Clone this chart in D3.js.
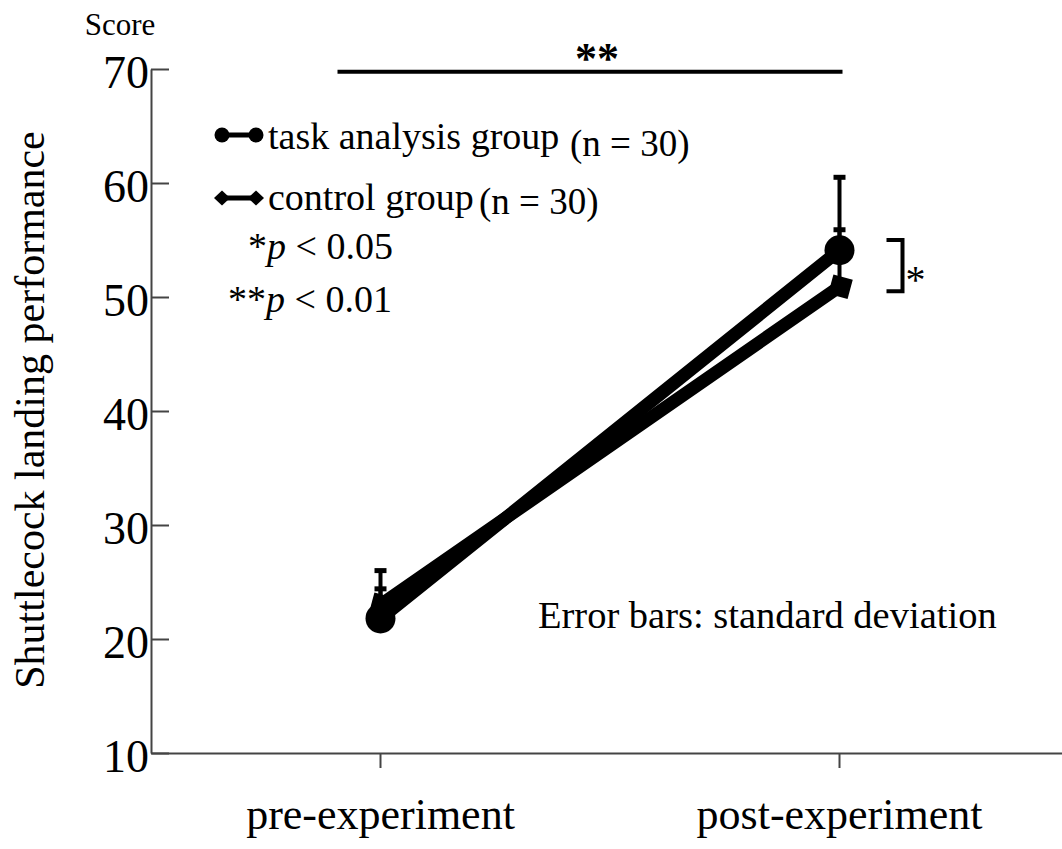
<!DOCTYPE html>
<html>
<head>
<meta charset="utf-8">
<script src="https://cdn.jsdelivr.net/npm/d3@7"></script>
<style>
  html, body { margin: 0; padding: 0; background: #fff; }
  svg { display: block; }
  text { font-family: "Liberation Serif", "Times New Roman", serif; fill: #000; }
</style>
</head>
<body>
<svg id="chart" width="1062" height="849"></svg>
<script>
// Measurement phases on the x axis
const categories = ["pre-experiment", "post-experiment"];

// Group means and standard deviations
const taskMean = [21.8, 54.1];
const taskSD = [2.6, 6.4];
const controlMean = [23.0, 50.9];
const controlSD = [3.0, 5.0];

// Y axis ticks
const yTicks = [10, 20, 30, 40, 50, 60, 70];

// Legend entries
const legendLabels = ["task analysis group", "control group"];
const legendN = ["(n = 30)", "(n = 30)"];

const svg = d3.select("#chart");

const x = d3.scaleBand().domain(categories).range([151, 1069]).padding(0);
const y = d3.scaleLinear().domain([10, 70]).range([753, 69]);
const cx = c => x(c) + x.bandwidth() / 2;

// Y axis: ticks point inward, labels on the left
const yAxis = svg.append("g")
  .attr("transform", "translate(151,0)")
  .call(d3.axisLeft(y).tickValues(yTicks).tickSizeInner(-18).tickSizeOuter(0).tickPadding(2));
yAxis.attr("font-family", null);
yAxis.selectAll("path, line").attr("stroke", "#444").attr("stroke-width", 2);
yAxis.selectAll("text")
  .attr("dy", "0.41em")
  .style("font-family", "'Liberation Serif', serif")
  .style("font-size", "46px")
  .attr("fill", "#000");

// X axis
const xAxis = svg.append("g")
  .attr("transform", "translate(0,753)")
  .call(d3.axisBottom(x).tickSizeInner(15).tickSizeOuter(0));
xAxis.attr("font-family", null);
xAxis.selectAll("path, line").attr("stroke", "#444").attr("stroke-width", 2);
xAxis.selectAll("text")
  .attr("y", 76)
  .attr("dy", 0)
  .style("font-family", "'Liberation Serif', serif")
  .style("font-size", "44px")
  .attr("fill", "#000");

// Axis titles
svg.append("text")
  .attr("x", 120).attr("y", 35)
  .attr("text-anchor", "middle")
  .style("font-size", "31px")
  .text("Score");

svg.append("text")
  .attr("transform", "translate(44,410) rotate(-90)")
  .attr("text-anchor", "middle")
  .style("font-size", "42px")
  .text("Shuttlecock landing performance");

// Series definitions
const series = [
  { mean: taskMean, sd: taskSD, marker: "circle" },
  { mean: controlMean, sd: controlSD, marker: "square" }
];

// Upper error bars (standard deviation)
const capW = 12;
series.forEach(s => {
  const g = svg.append("g");
  categories.forEach((c, i) => {
    const px = cx(c);
    g.append("line")
      .attr("x1", px).attr("x2", px)
      .attr("y1", y(s.mean[i])).attr("y2", y(s.mean[i] + s.sd[i]))
      .attr("stroke", "#000").attr("stroke-width", 4);
    g.append("line")
      .attr("x1", px - capW / 2).attr("x2", px + capW / 2)
      .attr("y1", y(s.mean[i] + s.sd[i])).attr("y2", y(s.mean[i] + s.sd[i]))
      .attr("stroke", "#000").attr("stroke-width", 5);
  });
});

// Connecting lines
const line = d3.line().x((d, i) => cx(categories[i])).y(d => y(d));
series.slice().reverse().forEach(s => {
  svg.append("path")
    .datum(s.mean)
    .attr("d", line)
    .attr("fill", "none")
    .attr("stroke", "#000")
    .attr("stroke-width", 13)
    .attr("stroke-linecap", "round");
});

// Markers
const squarePath = d3.symbol(d3.symbolSquare, 400)();
categories.forEach((c, i) => {
  svg.append("path")
    .attr("d", squarePath)
    .attr("transform", `translate(${cx(c) + 1},${y(controlMean[i])}) rotate(15)`)
    .attr("fill", "#000");
  svg.append("circle")
    .attr("cx", cx(c)).attr("cy", y(taskMean[i]))
    .attr("r", 15)
    .attr("fill", "#000");
});

// Significance bar between phases
svg.append("line")
  .attr("x1", cx(categories[0]) - 43).attr("x2", cx(categories[1]) + 3)
  .attr("y1", y(69.75)).attr("y2", y(69.75))
  .attr("stroke", "#000").attr("stroke-width", 4);
svg.append("text")
  .attr("x", 597).attr("y", 73)
  .attr("text-anchor", "middle")
  .style("font-size", "44px")
  .style("font-weight", "bold")
  .text("**");

// Significance bracket between groups at post-experiment
const bx = cx(categories[1]) + 63;
const bTop = y(55.0), bBot = y(50.5);
svg.append("path")
  .attr("d", `M${bx - 16},${bTop} H${bx} V${bBot} H${bx - 16}`)
  .attr("fill", "none").attr("stroke", "#000").attr("stroke-width", 4);
svg.append("text")
  .attr("x", bx + 3).attr("y", (bTop + bBot) / 2 + 27)
  .style("font-size", "40px")
  .text("*");

// Legend
const leg = svg.append("g");
const legY = [135, 198];
const legX1 = 222, legX2 = 256;
leg.append("line")
  .attr("x1", legX1).attr("x2", legX2).attr("y1", legY[0]).attr("y2", legY[0])
  .attr("stroke", "#000").attr("stroke-width", 5);
[legX1, legX2].forEach(px => {
  leg.append("circle").attr("cx", px).attr("cy", legY[0]).attr("r", 7.5).attr("fill", "#000");
});
leg.append("line")
  .attr("x1", legX1).attr("x2", legX2).attr("y1", legY[1]).attr("y2", legY[1])
  .attr("stroke", "#000").attr("stroke-width", 5);
[legX1, legX2].forEach(px => {
  leg.append("path")
    .attr("d", `M${px - 8},${legY[1]} L${px},${legY[1] - 7.5} L${px + 8},${legY[1]} L${px},${legY[1] + 7.5} Z`)
    .attr("fill", "#000");
});
leg.append("text").attr("x", 268).attr("y", 149).style("font-size", "38px").text(legendLabels[0]);
leg.append("text").attr("x", 570).attr("y", 156).style("font-size", "37px").text(legendN[0]);
leg.append("text").attr("x", 268).attr("y", 210).style("font-size", "38px").text(legendLabels[1]);
leg.append("text").attr("x", 479).attr("y", 214).style("font-size", "37px").text(legendN[1]);

// p-value notes
const p1 = leg.append("text").attr("x", 248).attr("y", 259).style("font-size", "38px");
p1.append("tspan").text("*");
p1.append("tspan").style("font-style", "italic").text("p");
p1.append("tspan").text(" < 0.05");
const p2 = leg.append("text").attr("x", 228).attr("y", 312).style("font-size", "38px");
p2.append("tspan").text("**");
p2.append("tspan").style("font-style", "italic").text("p");
p2.append("tspan").text(" < 0.01");

// Error bar note
svg.append("text")
  .attr("x", 538).attr("y", 628)
  .style("font-size", "38.5px")
  .text("Error bars: standard deviation");
</script>
</body>
</html>
